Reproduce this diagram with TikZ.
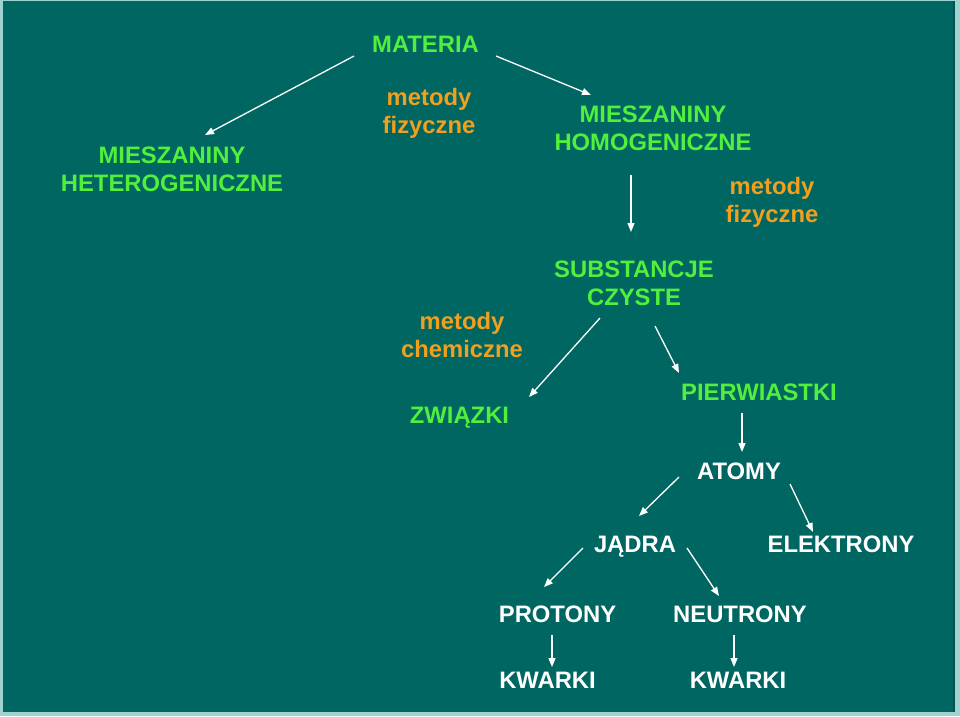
\documentclass[tikz,border=0pt]{standalone}
\usepackage{fontspec}
\setmainfont{Liberation Sans}
\usetikzlibrary{arrows.meta,calc}
\definecolor{bgteal}{RGB}{0,102,98}
\definecolor{edgecol}{RGB}{160,210,210}
\definecolor{txtgreen}{RGB}{80,240,60}
\definecolor{txtorange}{RGB}{240,160,30}
\begin{document}
\begin{tikzpicture}[x=1pt,y=-1pt,
  lbl/.style={inner sep=0pt,outer sep=0pt,anchor=north,align=center,
    font=\fontsize{23.8}{28}\selectfont\bfseries},
  grn/.style={lbl,text=txtgreen},
  org/.style={lbl,text=txtorange},
  wht/.style={lbl,text=white},
  arr/.style={draw=white,line width=1.3pt,-{Triangle[length=9pt,width=7pt]}}]
\path[use as bounding box,fill=edgecol] (0,0) rectangle (960,716);
\fill[bgteal] (2.5,1) rectangle (955,712);
\fill[bgteal!80!black] (953,1) rectangle (955,712);

\node[grn] (mat) at (425.5,36) {MATERIA};
\node[org] (mf1) at (429,88) {metody\\fizyczne};
\node[grn] (het) at (172,147) {MIESZANINY\\HETEROGENICZNE};
\node[grn] (hom) at (653,106) {MIESZANINY\\HOMOGENICZNE};
\node[org] (mf2) at (772,177.5) {metody\\fizyczne};
\node[grn] (sub) at (634,261) {SUBSTANCJE\\CZYSTE};
\node[org] (mch) at (462,312.5) {metody\\chemiczne};
\node[grn] (zwi) at (459.5,407) {ZWIĄZKI};
\node[grn] (pie) at (759,384) {PIERWIASTKI};
\node[wht] (ato) at (739,463) {ATOMY};
\node[wht] (jad) at (635,536) {JĄDRA};
\node[wht] (ele) at (841,536) {ELEKTRONY};
\node[wht] (pro) at (557.5,606) {PROTONY};
\node[wht] (neu) at (740,606) {NEUTRONY};
\node[wht] (kw1) at (547.5,672) {KWARKI};
\node[wht] (kw2) at (738,672) {KWARKI};

\draw[arr] ($(mat.north)+(-71.5,20)$) -- ($(het.north)+(33,-12)$);
\draw[arr] ($(mat.north)+(70.5,20)$) -- ($(hom.north)+(-62,-11)$);
\draw[arr] ($(hom.north)+(-22,69)$) -- ($(sub.north)+(-3,-29)$);
\draw[arr] ($(sub.north)+(-34,57)$) -- ($(zwi.north)+(69.5,-10)$);
\draw[arr] ($(sub.north)+(21,65)$) -- ($(pie.north)+(-80,-11)$);
\draw[arr] ($(pie.north)+(-17,29)$) -- ($(ato.north)+(3,-11)$);
\draw[arr] ($(ato.north)+(-60,14)$) -- ($(jad.north)+(4,-20)$);
\draw[arr] ($(ato.north)+(51,21)$) -- ($(ele.north)+(-28,-4)$);
\draw[arr] ($(jad.north)+(-52,12)$) -- ($(pro.north)+(-13.5,-19)$);
\draw[arr] ($(jad.north)+(52,12)$) -- ($(neu.north)+(-21,-10)$);
\draw[arr] ($(pro.north)+(-5.5,29)$) -- ($(kw1.north)+(4.5,-5)$);
\draw[arr] ($(neu.north)+(-6,29)$) -- ($(kw2.north)+(-4,-5)$);
\end{tikzpicture}
\end{document}
